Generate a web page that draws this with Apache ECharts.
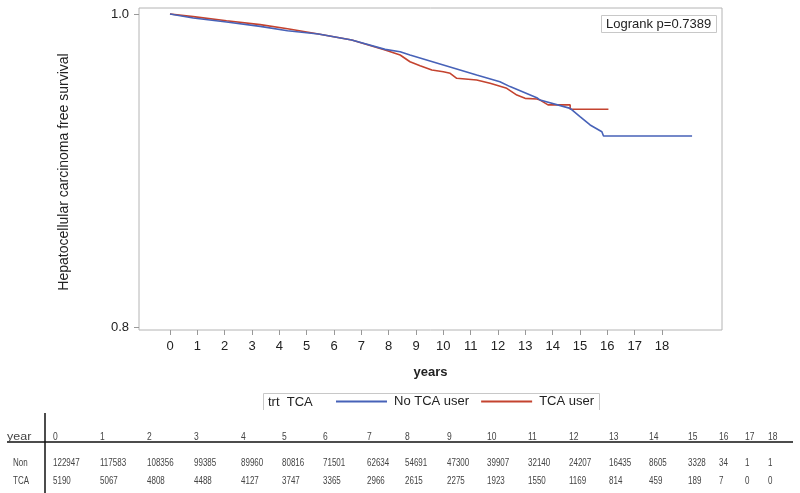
<!DOCTYPE html>
<html>
<head>
<meta charset="utf-8">
<script src="https://cdn.jsdelivr.net/npm/echarts@6/dist/echarts.min.js"></script>
<style>
html,body{margin:0;padding:0;background:#fff;}
#chart{width:800px;height:493px;}
</style>
</head>
<body>
<div id="chart"></div>
<script>
// ---------- data ----------
const xTicks = [0,1,2,3,4,5,6,7,8,9,10,11,12,13,14,15,16,17,18];
const yTicks = [0.8, 1.0];

// No TCA user (blue) : time (years), survival
const noTcaT = [0, 0.85, 2.07, 3.3, 4.3, 5.43, 6.65, 7.87, 8.42, 8.78, 10, 11.22, 12.07, 12.44, 13.42, 13.54, 14.64, 15.0, 15.37, 15.8, 15.86, 19.1];
const noTcaS = [1.0, 0.9974, 0.9949, 0.9921, 0.9893, 0.9872, 0.9834, 0.9774, 0.9759, 0.9738, 0.9674, 0.9610, 0.9567, 0.9536, 0.9465, 0.9450, 0.9397, 0.9344, 0.9291, 0.9248, 0.9220, 0.9220];

// TCA user (red)
const tcaT = [0, 0.85, 2.07, 3.3, 4.3, 5.43, 6.65, 7.87, 8.42, 8.78, 9.15, 9.58, 10.0, 10.25, 10.49, 11.22, 11.71, 12.32, 12.69, 12.99, 13.42, 13.54, 13.83, 14.64, 14.64, 16.04];
const tcaS = [1.0, 0.9983, 0.9957, 0.9932, 0.9906, 0.9872, 0.9834, 0.9770, 0.9738, 0.9695, 0.9670, 0.9642, 0.9631, 0.9621, 0.9589, 0.9578, 0.9557, 0.9525, 0.9482, 0.9461, 0.9457, 0.9450, 0.9419, 0.9419, 0.9391, 0.9391];

const seriesNames = ['No TCA user', 'TCA user'];
const pValueText = 'Logrank p=0.7389';

// number at risk table
const tableYears = ['0','1','2','3','4','5','6','7','8','9','10','11','12','13','14','15','16','17','18'];
const atRiskNon = [122947,117583,108356,99385,89960,80816,71501,62634,54691,47300,39907,32140,24207,16435,8605,3328,34,1,1];
const atRiskTCA = [5190,5067,4808,4488,4127,3747,3365,2966,2615,2275,1923,1550,1169,814,459,189,7,0,0];
const rowLabels = ['Non', 'TCA'];

// ---------- layout (not data) ----------
const colX = [53,100,147,194,241,282,323,367,405,447,487,528,569,609,649,688,719,745,768];
const FONT = "'Liberation Sans', Arial, Helvetica, sans-serif";
const BLUE = '#4762b8';
const RED = '#c4432f';

const chart = echarts.init(document.getElementById('chart'), null, {renderer: 'canvas'});

function zip(t, s) { return t.map((v, i) => [v, s[i]]); }

const graphics = [];
// y-axis title
graphics.push({
  type: 'text', x: 64, y: 172, rotation: Math.PI / 2,
  style: { text: 'Hepatocellular carcinoma free survival', font: '14px ' + FONT, fill: '#222', align: 'center', verticalAlign: 'middle' }
});
// logrank box
graphics.push({
  type: 'rect', shape: { x: 601.5, y: 15.5, width: 115, height: 17 },
  style: { fill: '#fff', stroke: '#c8c8c8', lineWidth: 1 }
});
graphics.push({
  type: 'text', x: 606, y: 24.5,
  style: { text: pValueText, font: '13px ' + FONT, fill: '#222', align: 'left', verticalAlign: 'middle' }
});
// legend frame (partially visible)
graphics.push({
  type: 'polyline', shape: { points: [[263.5, 410], [263.5, 393.5], [599.5, 393.5], [599.5, 410]] },
  style: { stroke: '#c8c8c8', lineWidth: 1, fill: null }
});
graphics.push({
  type: 'text', x: 268, y: 402,
  style: { text: 'trt  TCA', font: '13px ' + FONT, fill: '#222', align: 'left', verticalAlign: 'middle' }
});
// table lines
graphics.push({ type: 'line', shape: { x1: 45, y1: 413, x2: 45, y2: 493 }, style: { stroke: '#111', lineWidth: 1.5 } });
graphics.push({ type: 'line', shape: { x1: 7, y1: 442, x2: 793, y2: 442 }, style: { stroke: '#111', lineWidth: 1.5 } });
const tStyle = (t) => ({ text: String(t), font: '10px ' + FONT, fill: '#444', align: 'left', verticalAlign: 'middle' });
graphics.push({ type: 'text', x: 7, y: 437, scaleX: 1.25, style: tStyle('year') });
graphics.push({ type: 'text', x: 13, y: 463, scaleX: 0.8, style: tStyle(rowLabels[0]) });
graphics.push({ type: 'text', x: 13, y: 481, scaleX: 0.8, style: tStyle(rowLabels[1]) });
tableYears.forEach((yr, i) => {
  graphics.push({ type: 'text', x: colX[i], y: 437, scaleX: 0.85, style: tStyle(yr) });
  graphics.push({ type: 'text', x: colX[i], y: 463, scaleX: 0.8, style: tStyle(atRiskNon[i]) });
  graphics.push({ type: 'text', x: colX[i], y: 481, scaleX: 0.8, style: tStyle(atRiskTCA[i]) });
});

const option = {
  animation: false,
  backgroundColor: '#fff',
  textStyle: { fontFamily: FONT },
  grid: { left: 139, right: 78, top: 8, bottom: 163, show: true, borderColor: '#b4b4b4', borderWidth: 1, backgroundColor: '#fff' },
  xAxis: {
    type: 'value', min: -1.134, max: 20.195,
    name: 'years', nameLocation: 'middle', nameGap: 36,
    nameTextStyle: { fontSize: 13, fontWeight: 'bold', color: '#222', fontFamily: FONT },
    axisLine: { show: false, onZero: false },
    splitLine: { show: false },
    axisTick: { show: true, length: 5, customValues: xTicks, lineStyle: { color: '#999' } },
    axisLabel: { customValues: xTicks, margin: 10, fontSize: 13, color: '#222', fontFamily: FONT, formatter: v => String(v) }
  },
  yAxis: {
    type: 'value', min: 0.79808, max: 1.00383,
    axisLine: { show: false, onZero: false },
    splitLine: { show: false },
    axisTick: { show: true, length: 5, customValues: yTicks, lineStyle: { color: '#999' } },
    axisLabel: { customValues: yTicks, margin: 10, fontSize: 13, color: '#222', fontFamily: FONT, formatter: v => v.toFixed(1) }
  },
  legend: {
    data: seriesNames, left: 336, top: 395, padding: 0,
    itemWidth: 51, itemHeight: 2, itemGap: 12, icon: 'rect',
    textStyle: { fontSize: 13, color: '#222', fontFamily: FONT, padding: [0, 0, 0, 2] }
  },
  series: [
    { name: seriesNames[0], type: 'line', data: zip(noTcaT, noTcaS), showSymbol: false, symbol: 'none',
      lineStyle: { color: BLUE, width: 1.6 }, itemStyle: { color: BLUE }, z: 3 },
    { name: seriesNames[1], type: 'line', data: zip(tcaT, tcaS), showSymbol: false, symbol: 'none',
      lineStyle: { color: RED, width: 1.6 }, itemStyle: { color: RED }, z: 2 }
  ],
  graphic: graphics
};
chart.setOption(option);
</script>
</body>
</html>
